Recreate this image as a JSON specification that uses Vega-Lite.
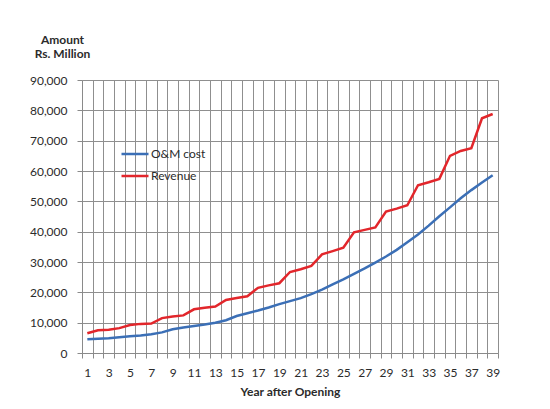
{
  "$schema": "https://vega.github.io/schema/vega-lite/v6.json",
  "autosize": {"type": "none"},
  "padding": {"left": 82, "top": 80, "right": 52, "bottom": 56},
  "width": 416,
  "height": 273,
  "background": "#ffffff",
  "config": {
    "font": "Lato",
    "view": {"stroke": null},
    "axis": {
      "gridColor": "#8f8f8f",
      "gridWidth": 1,
      "gridOpacity": 1,
      "domainColor": "#8a8a8a",
      "tickColor": "#8a8a8a",
      "tickSize": 5,
      "labelFont": "Lato",
      "labelFontSize": 12,
      "labelColor": "#2b2b2b",
      "titleFont": "Lato",
      "titleFontSize": 12,
      "titleFontWeight": "bold",
      "titleColor": "#2b2b2b"
    }
  },
  "data": {
    "values": [
      {"year": 1, "O&M cost": 4500, "Revenue": 6500},
      {"year": 2, "O&M cost": 4700, "Revenue": 7500},
      {"year": 3, "O&M cost": 4900, "Revenue": 7700},
      {"year": 4, "O&M cost": 5200, "Revenue": 8200},
      {"year": 5, "O&M cost": 5500, "Revenue": 9200},
      {"year": 6, "O&M cost": 5800, "Revenue": 9600},
      {"year": 7, "O&M cost": 6200, "Revenue": 9700},
      {"year": 8, "O&M cost": 6800, "Revenue": 11500},
      {"year": 9, "O&M cost": 7800, "Revenue": 12000},
      {"year": 10, "O&M cost": 8400, "Revenue": 12400},
      {"year": 11, "O&M cost": 8900, "Revenue": 14400},
      {"year": 12, "O&M cost": 9400, "Revenue": 14900},
      {"year": 13, "O&M cost": 10000, "Revenue": 15300},
      {"year": 14, "O&M cost": 10800, "Revenue": 17500},
      {"year": 15, "O&M cost": 12200, "Revenue": 18100},
      {"year": 16, "O&M cost": 13100, "Revenue": 18700},
      {"year": 17, "O&M cost": 14000, "Revenue": 21500},
      {"year": 18, "O&M cost": 15000, "Revenue": 22300},
      {"year": 19, "O&M cost": 16100, "Revenue": 23000},
      {"year": 20, "O&M cost": 17100, "Revenue": 26700},
      {"year": 21, "O&M cost": 18100, "Revenue": 27600},
      {"year": 22, "O&M cost": 19400, "Revenue": 28700},
      {"year": 23, "O&M cost": 20900, "Revenue": 32500},
      {"year": 24, "O&M cost": 22600, "Revenue": 33600},
      {"year": 25, "O&M cost": 24300, "Revenue": 34700},
      {"year": 26, "O&M cost": 26100, "Revenue": 39800},
      {"year": 27, "O&M cost": 27900, "Revenue": 40600},
      {"year": 28, "O&M cost": 29800, "Revenue": 41400},
      {"year": 29, "O&M cost": 31800, "Revenue": 46600},
      {"year": 30, "O&M cost": 34000, "Revenue": 47600},
      {"year": 31, "O&M cost": 36500, "Revenue": 48700},
      {"year": 32, "O&M cost": 39100, "Revenue": 55300},
      {"year": 33, "O&M cost": 42000, "Revenue": 56300},
      {"year": 34, "O&M cost": 45100, "Revenue": 57400},
      {"year": 35, "O&M cost": 48000, "Revenue": 65000},
      {"year": 36, "O&M cost": 51000, "Revenue": 66600},
      {"year": 37, "O&M cost": 53700, "Revenue": 67500},
      {"year": 38, "O&M cost": 56200, "Revenue": 77400},
      {"year": 39, "O&M cost": 58600, "Revenue": 78800}
    ]
  },
  "transform": [
    {"fold": ["O&M cost", "Revenue"], "as": ["series", "amount"]}
  ],
  "mark": {"type": "line", "strokeWidth": 2.5, "interpolate": "linear"},
  "encoding": {
    "x": {
      "field": "year",
      "type": "ordinal",
      "scale": {"type": "band", "paddingInner": 0, "paddingOuter": 0},
      "axis": {
        "title": "Year after Opening",
        "tickBand": "extent",
        "grid": true,
        "labelAngle": 0,
        "labelPadding": 9,
        "labelExpr": "datum.value % 2 == 1 ? datum.label : ''",
        "titlePadding": 8
      }
    },
    "y": {
      "field": "amount",
      "type": "quantitative",
      "scale": {"domain": [0, 90000], "nice": false},
      "axis": {
        "values": [0, 10000, 20000, 30000, 40000, 50000, 60000, 70000, 80000, 90000],
        "format": ",d",
        "labelPadding": 10,
        "title": ["Amount", "Rs. Million"],
        "titleAngle": 0,
        "titleAlign": "center",
        "titleBaseline": "alphabetic",
        "titleX": -20,
        "titleY": -37,
        "titleLineHeight": 14
      }
    },
    "color": {
      "field": "series",
      "type": "nominal",
      "scale": {"domain": ["O&M cost", "Revenue"], "range": ["#3b6fb6", "#e2262b"]},
      "legend": {
        "title": null,
        "orient": "none",
        "legendX": 38,
        "legendY": 59,
        "symbolType": "stroke",
        "symbolSize": 729,
        "symbolStrokeWidth": 2.5,
        "labelFont": "Lato",
        "labelFontSize": 12,
        "labelColor": "#2b2b2b",
        "labelOffset": 1,
        "rowPadding": 1
      }
    }
  }
}
